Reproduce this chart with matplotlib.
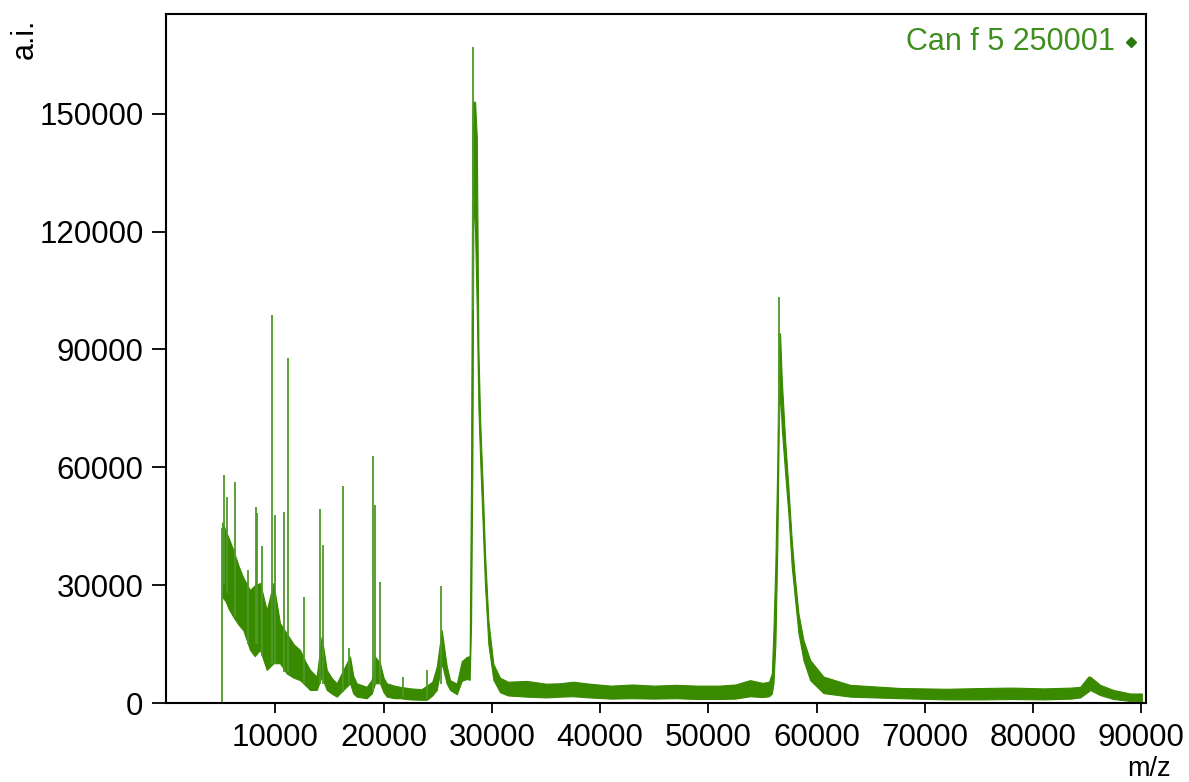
import numpy as np
import matplotlib.pyplot as plt

plt.rcParams['font.family'] = ['Liberation Sans', 'DejaVu Sans']

# Spectrum envelope: m/z, upper and lower edge of the noisy trace
band_mz = [5100, 5400, 5700, 6120, 6600, 7040, 7660, 8100, 8590, 9210,
           9820, 10430, 11050, 11700, 12280, 12800, 13210, 13820, 14280, 14750,
           15200, 15670, 16280, 16900, 17200, 17520, 18440, 18900, 19210, 19670,
           20000, 20290, 21000, 21520, 22500, 23500, 23990, 24500, 24910, 25370,
           25830, 26140, 26760, 27220, 27680, 27950, 28080, 28200, 28300, 28450,
           28610, 28760, 28920, 29160, 29370, 29680, 30140, 30760, 31500, 33220,
           35000, 36300, 37500, 39000, 41000, 43000, 45000, 47000, 49000, 51000,
           52500, 53850, 55000, 55600, 55860, 56010, 56190, 56370, 56500, 56620,
           56780, 57090, 57390, 57700, 58010, 58320, 58780, 59400, 60630, 63090,
           67710, 72000, 75400, 78000, 81000, 83500, 84340, 85100, 85260, 86180,
           87410, 88960, 90040]
band_hi = [46000, 44000, 42000, 39000, 35000, 32000, 28800, 30000, 30600, 23700,
           30600, 20400, 17800, 15000, 13600, 10500, 8500, 6800, 17000, 8500,
           6500, 5100, 8500, 11900, 7000, 5100, 4200, 6000, 11900, 10200,
           6500, 5100, 4500, 4200, 3800, 3600, 4500, 5500, 9300, 18600,
           9500, 5900, 5000, 10700, 11800, 12000, 57800, 150000, 153000, 153000,
           144000, 90000, 72000, 55000, 38000, 21000, 10000, 6500, 5500, 5700,
           5000, 5100, 5500, 5000, 4500, 4800, 4500, 4700, 4500, 4500,
           4800, 5900, 5200, 5500, 7600, 18600, 35600, 61900, 94000, 94100,
           82300, 67000, 55100, 41500, 31400, 22900, 16100, 11000, 6800, 4700,
           3900, 3700, 3900, 4000, 3800, 4000, 4200, 6800, 6800, 4700,
           3400, 2500, 2500]
band_lo = [27000, 26000, 24000, 22000, 20000, 18600, 13600, 12000, 13600, 8500,
           10200, 10200, 7600, 6500, 5900, 4500, 3400, 3400, 6800, 3400,
           2500, 1700, 3400, 5100, 2500, 1700, 1300, 2500, 5100, 5100,
           2800, 1700, 1300, 1300, 1000, 900, 900, 2000, 3400, 10200,
           5000, 3400, 2300, 5700, 6200, 6000, 20000, 60000, 130000, 120000,
           100000, 75000, 62000, 45000, 30000, 15000, 6000, 2800, 2000, 1700,
           1500, 1700, 1800, 1500, 1200, 1300, 1200, 1300, 1100, 1100,
           1200, 1800, 1600, 1800, 2500, 5000, 15000, 40000, 70000, 80000,
           70000, 58600, 48300, 34800, 26300, 17900, 11000, 5900, 2600, 1700,
           1300, 1000, 1000, 1100, 1000, 1200, 1500, 3000, 3400, 2100,
           1100, 600, 400]

# Narrow spikes: position, tip and where the spike leaves the trace
spike_mz = [5050, 5230, 5560, 6280, 7510, 8180, 8330, 8730, 9650, 10000,
            10800, 11200, 12650, 14160, 14380, 16230, 16840, 19050, 19210, 19670,
            21770, 23990, 25300, 28290, 56560]
spike_top = [44600, 58100, 52600, 56400, 33900, 49900, 48400, 40000, 98800, 47900,
             48700, 87800, 27100, 49400, 40300, 55300, 14000, 62900, 50400, 30900,
             6800, 8500, 29800, 166800, 103300]
spike_base = [0, 30000, 28000, 22000, 15000, 15000, 15000, 12000, 10000, 10000,
              8000, 8000, 5000, 5000, 5000, 3000, 5000, 3000, 5000, 5000,
              1500, 1000, 5000, 100000, 70000]

y_ticks = [0, 30000, 60000, 90000, 120000, 150000]
x_ticks = [10000, 20000, 30000, 40000, 50000, 60000, 70000, 80000, 90000]
sample_name = "Can f 5 250001"

green = "#3a8a00"

fig = plt.figure(figsize=(11.89, 7.82), dpi=100)
ax = fig.add_axes([0.1394, 0.1006, 0.8245, 0.8809])

ax.fill_between(band_mz, band_lo, band_hi, color=green, linewidth=0.8,
                edgecolor=green)
ax.vlines(spike_mz, spike_base, spike_top, color="#4f9a2a", linewidth=1.3)

ax.set_xlim(-120, 90430)
ax.set_ylim(0, 175200)
ax.set_xticks(x_ticks)
ax.set_yticks(y_ticks)
ax.tick_params(axis="both", labelsize=22.5, width=1.3, direction="out")
ax.tick_params(axis="x", length=7, pad=7)
ax.tick_params(axis="y", length=10, pad=6)
for s in ax.spines.values():
    s.set_linewidth(1.5)

ax.text(0.9684, 0.960, sample_name, transform=ax.transAxes, ha="right",
        va="center", fontsize=22, color="#3f8f1f")
ax.plot([0.9847], [0.960], marker="D", markersize=5, color="#2a7a10",
        transform=ax.transAxes, clip_on=False)

fig.text(0.021, 0.951, "a.i.", rotation=90, ha="center", va="center", fontsize=22)
fig.text(0.9664, 0.017, "m/z", ha="center", va="center", fontsize=19.5)

plt.savefig("out.png", dpi=100)
